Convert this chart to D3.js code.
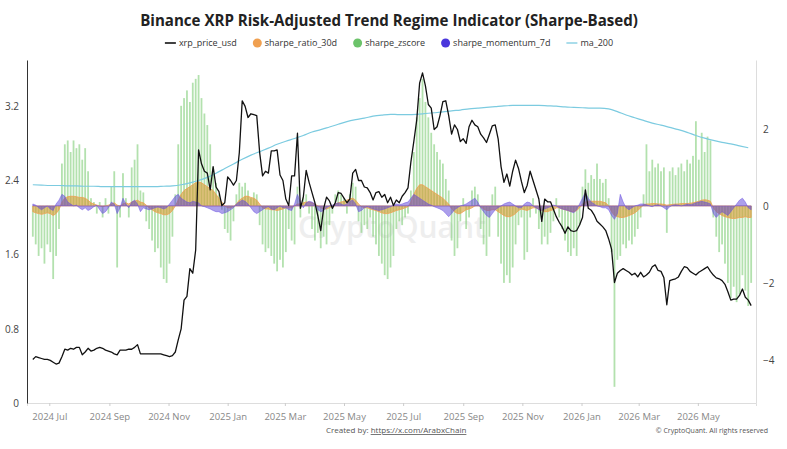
<!DOCTYPE html>
<html><head><meta charset="utf-8">
<script src="https://cdn.jsdelivr.net/npm/d3@7"></script>
<style>body{margin:0;background:#fff;} svg{display:block;font-family:"Open Sans",sans-serif;}</style>
</head><body><svg id="c" width="787" height="449"></svg>
<script>
const chartTitle = "Binance XRP Risk-Adjusted Trend Regime Indicator (Sharpe-Based)";
const seriesNames = ["xrp_price_usd","sharpe_ratio_30d","sharpe_zscore","sharpe_momentum_7d","ma_200"];
const seriesColors = ["#111111","#f0a050","#6cc36a","#4a36dc","#7ccbe0"];
const startDate = "2024-06-14";
const stepDays = 3;
const maStepDays = 9;
const xDomain = ["2024-06-08","2026-06-30"];
const xTickDates = ["2024-07-01","2024-09-01","2024-11-01","2025-01-01","2025-03-01","2025-05-01","2025-07-01","2025-09-01","2025-11-01","2026-01-01","2026-03-01","2026-05-01"];
const leftTicks = [0,0.8,1.6,2.4,3.2];
const rightTicks = [-4,-2,0,2];

const xrpPrice = [
0.47,0.50,0.49,0.48,0.47,0.47,0.46,0.44,0.42,0.43,
0.50,0.58,0.57,0.59,0.58,0.60,0.60,0.52,0.55,0.59,
0.56,0.57,0.59,0.60,0.59,0.57,0.56,0.55,0.53,0.52,
0.57,0.57,0.57,0.58,0.58,0.60,0.63,0.53,0.53,0.53,
0.53,0.53,0.53,0.53,0.53,0.52,0.51,0.50,0.51,0.55,
0.68,0.80,1.11,1.15,1.45,1.40,1.65,2.73,2.58,2.50,
2.48,2.30,2.55,2.33,2.28,2.13,2.16,2.44,2.40,2.35,
2.40,2.70,3.26,3.20,3.08,3.12,3.11,3.10,2.70,2.45,
2.50,2.48,2.72,2.72,2.73,2.46,2.40,2.20,2.13,2.45,
2.45,2.91,2.10,2.22,2.51,2.38,2.27,2.16,2.02,1.86,
2.10,2.22,2.18,2.10,2.16,2.27,2.26,2.21,2.16,2.20,
2.48,2.52,2.40,2.40,2.33,2.32,2.27,2.19,2.27,2.28,
2.22,2.25,2.16,2.22,2.13,2.19,2.16,2.23,2.27,2.32,
2.60,2.82,3.05,3.45,3.56,3.42,3.22,3.18,2.95,2.98,
3.10,3.25,3.26,3.10,2.90,3.00,2.95,2.82,2.85,2.80,
2.98,3.05,3.00,2.98,2.90,2.86,2.81,2.90,2.99,3.00,
2.85,2.55,2.38,2.47,2.34,2.50,2.62,2.53,2.39,2.27,
2.35,2.50,2.40,2.30,2.20,1.96,2.20,2.17,2.17,2.09,
2.01,1.95,1.90,1.83,1.90,1.86,1.85,1.86,1.92,2.00,
2.30,2.10,2.08,2.03,1.96,1.93,1.90,1.86,1.77,1.66,
1.30,1.40,1.43,1.45,1.43,1.41,1.38,1.40,1.36,1.41,
1.36,1.38,1.41,1.47,1.49,1.43,1.42,1.35,1.06,1.32,
1.33,1.34,1.36,1.42,1.47,1.46,1.42,1.40,1.38,1.41,
1.43,1.45,1.47,1.42,1.38,1.35,1.34,1.32,1.28,1.20,
1.11,1.12,1.12,1.16,1.23,1.14,1.11,1.05];

const sharpeZscore = [
-0.8,-1.0,-1.3,-1.1,-1.5,-1.0,-1.2,-1.9,-1.3,-0.6,
1.1,1.6,1.7,1.4,1.7,1.5,1.6,1.2,1.5,0.9,
0.2,0.1,-0.2,0.1,-0.3,0.2,-0.2,0.5,0.9,-1.6,
-0.3,0.85,0.2,-0.3,1.0,1.2,1.6,0.4,0.35,-0.4,
-0.6,-0.9,-1.2,-1.1,-1.6,-1.9,-2.0,-1.5,-0.8,0.3,
1.6,2.6,2.8,3.0,2.7,3.2,3.3,3.4,2.8,2.4,
2.1,1.6,1.0,0.6,0.3,-0.1,-0.6,-0.7,-0.9,-0.4,
0.3,0.6,0.5,0.6,0.4,0.2,0.35,0.3,-0.5,-1.0,
-1.2,-1.1,-1.3,-1.5,-1.7,-1.4,-1.6,-1.2,-0.6,-0.9,
-1.0,0.5,-0.3,0.2,0.3,-0.2,-0.6,-0.9,-0.7,-1.1,
-0.8,-1.0,-0.5,-0.2,0.3,0.4,0.3,0.2,-0.2,0.3,
0.6,0.5,-0.4,-0.7,-0.5,-0.6,-0.3,-0.8,-1.0,-1.3,
-1.5,-1.8,-1.9,-1.6,-1.3,-0.6,-0.4,-0.5,-0.3,-0.2,
0.4,1.4,2.3,2.8,3.3,2.7,2.3,1.9,1.6,1.4,
1.2,1.1,0.7,0.4,-0.9,-1.3,-1.1,-0.4,0.2,-0.6,
-0.3,0.4,0.5,0.3,-0.6,-1.0,-1.3,-0.8,0.3,0.5,
-0.8,-1.5,-2.0,-1.8,-2.0,-1.6,-1.0,-0.5,-0.3,-1.4,
-1.2,-0.3,0.2,-0.2,-0.6,-1.0,-0.8,-1.0,-0.7,-0.4,
0.2,-0.3,-0.6,-0.9,-1.2,-1.3,-1.1,-1.3,-0.5,0.5,
0.95,0.6,0.8,0.7,1.1,0.7,0.6,0.7,0.2,-1.2,
-4.7,-1.4,-1.3,-1.0,-1.1,-0.9,-1.0,-0.8,-0.6,-0.3,
0.3,1.6,0.9,1.2,1.0,1.1,0.9,1.0,-0.7,0.9,
1.0,0.8,1.0,1.1,0.9,1.2,1.1,1.3,2.2,1.2,
1.9,1.4,1.8,1.7,-0.3,-0.8,-1.2,-1.0,-1.5,-2.0,
-2.4,-2.1,-2.5,-2.3,-1.8,-2.2,-2.6,-2.0];

const sharpeRatio30d = [
-0.15,-0.18,-0.2,-0.22,-0.2,-0.18,-0.2,-0.25,-0.2,-0.1,
0.1,0.2,0.24,0.25,0.25,0.24,0.22,0.22,0.2,0.15,
0.08,0.05,0.02,0.0,-0.02,0.0,0.02,0.05,0.08,
0.02,0.0,0.05,0.08,0.05,0.1,0.12,0.15,0.1,0.08,
0.02,-0.05,-0.1,-0.15,-0.18,-0.2,-0.23,-0.23,-0.2,-0.12,
0.0,0.15,0.3,0.4,0.45,0.5,0.55,0.6,0.62,
0.6,0.55,0.5,0.45,0.4,0.3,0.2,0.1,
0.0,-0.05,-0.05,-0.02,0.05,
0.15,0.2,0.25,0.25,0.22,0.2,0.15,
0.05,-0.05,-0.08,-0.08,-0.1,-0.1,-0.12,-0.1,-0.08,-0.05,-0.05,
-0.05,0.0,0.05,0.05,0.08,0.1,0.1,
0.08,0.05,0.0,-0.05,-0.08,-0.08,-0.05,0.0,
0.05,0.08,0.1,0.12,0.15,0.18,0.2,0.15,
0.05,-0.02,-0.05,-0.05,-0.08,-0.1,-0.12,-0.15,
-0.18,-0.2,-0.2,-0.18,-0.15,-0.12,-0.1,-0.08,-0.05,-0.02,
0.1,0.3,0.45,0.55,0.55,0.5,0.45,0.4,0.35,0.3,0.25,0.2,0.12,0.05,
-0.08,-0.15,-0.2,-0.2,-0.15,-0.1,-0.08,-0.05,0.0,0.02,
-0.02,-0.08,-0.12,-0.12,-0.1,-0.1,-0.15,
-0.2,-0.25,-0.28,-0.28,-0.25,-0.2,-0.12,-0.08,
-0.1,-0.12,-0.08,-0.05,-0.05,-0.08,
-0.12,-0.15,-0.15,-0.12,-0.1,-0.05,-0.05,
-0.08,-0.1,-0.12,-0.15,-0.15,-0.12,-0.05,
0.05,0.1,0.12,0.12,0.12,0.12,0.12,0.1,0.08,0.0,
-0.15,-0.25,-0.28,-0.3,-0.3,-0.28,-0.25,-0.22,-0.18,-0.12,-0.05,
0.03,0.05,0.05,0.06,0.06,0.05,0.05,0.04,0.02,0.03,0.04,0.05,0.05,0.06,0.06,0.06,0.07,0.08,0.1,0.12,0.15,0.16,0.15,0.12,
-0.05,-0.15,-0.2,-0.25,-0.28,-0.3,-0.32,-0.33,-0.32,-0.3,-0.3,-0.28,-0.3,-0.3];

const sharpeMomentum7d = [
0.05,0.02,-0.05,-0.1,-0.05,0.0,-0.08,-0.12,0.05,0.15,
0.3,0.25,0.1,0.05,0.0,0.02,-0.05,-0.1,-0.05,-0.12,
-0.08,-0.02,0.02,-0.1,-0.2,-0.15,-0.05,0.1,0.05,-0.2,
-0.05,0.2,0.05,-0.05,0.1,0.15,0.05,-0.15,-0.05,-0.08,
-0.1,-0.08,-0.05,-0.03,-0.05,-0.08,-0.05,0.05,0.15,0.25,
0.3,0.2,0.15,0.1,0.08,0.12,0.1,0.08,0.0,-0.02,
-0.05,-0.08,-0.12,-0.15,-0.15,-0.2,-0.18,-0.15,-0.1,-0.05,
0.05,0.1,0.15,0.12,0.05,-0.05,-0.15,-0.2,-0.15,-0.1,
-0.05,-0.02,-0.08,-0.1,-0.05,0.0,-0.05,-0.05,-0.1,-0.12,
0.05,0.3,0.1,-0.05,0.08,0.12,0.1,0.05,-0.1,-0.15,
-0.12,-0.05,0.0,0.02,0.05,0.08,0.05,0.02,0.05,0.12,
0.15,0.05,-0.15,-0.12,-0.05,-0.02,-0.05,-0.08,-0.1,-0.12,
-0.1,-0.08,-0.05,-0.02,0.02,0.05,0.03,0.05,0.08,0.1,
0.2,0.3,0.25,0.2,0.15,0.1,0.05,0.02,-0.02,-0.05,
-0.08,-0.12,-0.2,-0.28,-0.2,-0.1,-0.05,0.0,0.02,0.05,
0.1,0.15,0.2,0.1,-0.05,-0.15,-0.25,-0.3,-0.2,-0.1,
-0.05,0.0,0.05,0.08,0.1,0.05,0.0,-0.05,-0.05,0.05,
0.1,0.08,0.0,-0.05,-0.1,-0.12,-0.08,-0.05,-0.02,0.02,
0.0,-0.05,-0.08,-0.1,-0.12,-0.15,-0.18,-0.1,0.05,0.2,
0.35,0.2,0.1,0.05,0.0,-0.02,-0.05,-0.05,-0.1,-0.25,
-0.35,-0.2,0.3,0.1,-0.05,-0.1,-0.05,0.0,0.02,0.05,
0.05,0.03,0.0,-0.02,0.02,0.03,0.0,-0.05,-0.1,-0.02,
0.02,0.03,0.02,0.0,0.02,0.05,0.03,0.05,0.08,0.1,
0.12,0.1,0.08,0.05,-0.2,-0.3,-0.22,-0.15,-0.2,-0.25,
-0.15,-0.05,0.05,0.15,0.2,0.1,-0.05,-0.1];

const ma200 = [
0.55,0.54,0.53,0.53,0.52,0.52,0.51,0.51,0.50,0.50,
0.50,0.50,0.50,0.50,0.50,0.51,0.52,0.55,0.60,0.66,
0.74,0.85,0.97,1.09,1.21,1.32,1.41,1.50,1.60,1.68,
1.75,1.83,1.92,1.98,2.05,2.12,2.19,2.24,2.28,2.33,
2.36,2.38,2.37,2.37,2.38,2.40,2.42,2.44,2.47,2.49,
2.52,2.54,2.56,2.58,2.60,2.61,2.61,2.61,2.61,2.60,
2.59,2.57,2.56,2.55,2.54,2.54,2.52,2.45,2.36,2.29,
2.22,2.15,2.10,2.04,1.98,1.91,1.83,1.76,1.70,1.65,
1.61,1.56,1.51];

const svg = d3.select("#c");
const parse = d3.utcParse("%Y-%m-%d");
const start = parse(startDate);
const L = 27, R = 756, T = 60, B = 403;

const x = d3.scaleUtc().domain(xDomain.map(parse)).range([L, R]);
const yL = d3.scaleLinear().domain([0, 3.7]).range([B, T]);
const yR = d3.scaleLinear().domain([-5.12, 3.79]).range([B, T]);

const mk = (arr, step) => arr.map((v, i) => ({ d: d3.utcDay.offset(start, i * step), v }));
const priceData = mk(xrpPrice, stepDays);
const zData = mk(sharpeZscore, stepDays);
const srData = mk(sharpeRatio30d, stepDays);
const momData = mk(sharpeMomentum7d, stepDays);
const maData = mk(ma200, maStepDays);

// Title
const tt = svg.append("text").attr("x", 389).attr("y", 26).attr("text-anchor", "middle")
  .attr("font-size", 16).attr("font-weight", 700).attr("fill", "#222").text(chartTitle);
const tw = tt.node().getComputedTextLength();
tt.attr("font-size", 16 * 498 / tw);

// Legend
const lg = svg.append("g").attr("font-size", 9).attr("fill", "#333");
let cx = 0;
seriesNames.forEach((n, i) => {
  const g = lg.append("g");
  const isLine = (i === 0 || i === 4);
  if (isLine) {
    g.append("line").attr("x1", cx).attr("x2", cx + 11).attr("y1", 0).attr("y2", 0)
      .attr("stroke", seriesColors[i]).attr("stroke-width", i === 0 ? 1.6 : 1.3);
    cx += 14;
  } else {
    g.append("circle").attr("cx", cx + 4.5).attr("cy", 0).attr("r", 4.5).attr("fill", seriesColors[i]);
    cx += 12;
  }
  const t = g.append("text").attr("x", cx).attr("y", 3.2).text(n);
  cx += t.node().getComputedTextLength() + 16;
});
const lgW = cx - 16;
lg.attr("transform", `translate(${389 - lgW / 2},43)`);

// Clip
svg.append("defs").append("clipPath").attr("id", "clip").append("rect")
  .attr("x", L).attr("y", T).attr("width", R - L).attr("height", B - T);

// Watermark
svg.append("text").attr("x", 392).attr("y", 238).attr("text-anchor", "middle")
  .attr("font-size", 30).attr("font-weight", 600).attr("fill", "#cfcfcf").attr("opacity", 0.35)
  .text("CryptoQuant");

const plot = svg.append("g").attr("clip-path", "url(#clip)");

// Green bars (sharpe_zscore)
plot.append("g").selectAll("rect").data(zData).join("rect")
  .attr("x", d => x(d.d) - 0.9).attr("width", 1.8)
  .attr("y", d => Math.min(yR(d.v), yR(0)))
  .attr("height", d => Math.abs(yR(d.v) - yR(0)))
  .attr("fill", "#84cf7d").attr("opacity", 0.62);

// Orange area (sharpe_ratio_30d)
const areaR = d3.area().x(d => x(d.d)).y0(yR(0)).y1(d => yR(d.v));
plot.append("path").datum(srData).attr("d", areaR)
  .attr("fill", "#d39a2e").attr("fill-opacity", 0.6)
  .attr("stroke", "#f0a050").attr("stroke-width", 0.8);

// Purple area (sharpe_momentum_7d)
plot.append("path").datum(momData).attr("d", areaR)
  .attr("fill", "#5a3fd8").attr("fill-opacity", 0.5)
  .attr("stroke", "#6a50e0").attr("stroke-width", 0.5);

// ma_200 line
plot.append("path").datum(maData)
  .attr("d", d3.line().x(d => x(d.d)).y(d => yR(d.v)).curve(d3.curveMonotoneX))
  .attr("fill", "none").attr("stroke", seriesColors[4]).attr("stroke-width", 1.2);

// Price line
plot.append("path").datum(priceData)
  .attr("d", d3.line().x(d => x(d.d)).y(d => yL(d.v)))
  .attr("fill", "none").attr("stroke", seriesColors[0]).attr("stroke-width", 1.3)
  .attr("stroke-linejoin", "round");

// Axes
const xAxis = svg.append("g").attr("transform", `translate(0,${B})`)
  .call(d3.axisBottom(x).tickValues(xTickDates.map(parse)).tickFormat(d3.utcFormat("%Y %b")).tickSize(3).tickPadding(7));
xAxis.select(".domain").attr("stroke", "#ddd");
xAxis.selectAll(".tick line").attr("stroke", "#ccc");
xAxis.selectAll(".tick text").attr("fill", "#888").attr("font-size", 9.5).attr("font-family", "Open Sans, sans-serif");

const yAxisL = svg.append("g").attr("transform", `translate(${L},0)`)
  .call(d3.axisLeft(yL).tickValues(leftTicks).tickFormat(d3.format("~g")).tickSize(0).tickPadding(8));
yAxisL.select(".domain").attr("stroke", "#333");
yAxisL.selectAll(".tick text").attr("fill", "#444").attr("font-size", 10).attr("font-family", "Open Sans, sans-serif");

const yAxisR = svg.append("g").attr("transform", `translate(${R},0)`)
  .call(d3.axisRight(yR).tickValues(rightTicks).tickFormat(d3.format("~g")).tickSize(0).tickPadding(7));
yAxisR.select(".domain").attr("stroke", "#ddd");
yAxisR.selectAll(".tick text").attr("fill", "#444").attr("font-size", 10).attr("font-family", "Open Sans, sans-serif");

// Footer
const ft = svg.append("text").attr("x", 326).attr("y", 433).attr("font-size", 8).attr("fill", "#555");
ft.append("tspan").text("Created by: ");
ft.append("tspan").attr("text-decoration", "underline").text("https://x.com/ArabxChain");
svg.append("text").attr("x", 768).attr("y", 433).attr("text-anchor", "end")
  .attr("font-size", 7).attr("fill", "#555").text("© CryptoQuant. All rights reserved");
</script></body></html>
